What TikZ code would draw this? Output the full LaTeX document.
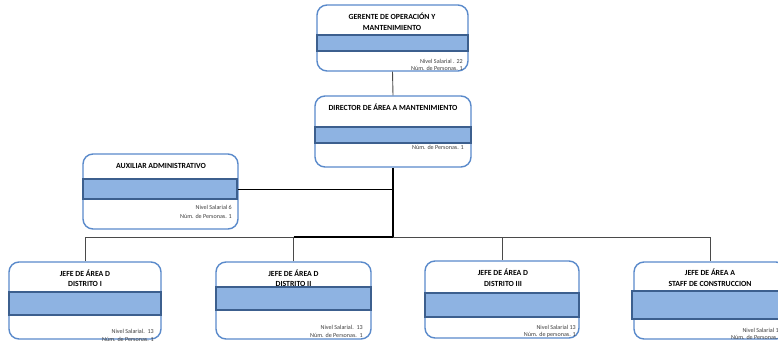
\documentclass[tikz,border=0pt]{standalone}
\usepackage{fontspec}
\setmainfont{Carlito}
\begin{document}
\begin{tikzpicture}[x=1pt,y=-1pt,
  card/.style={draw=boxblue,line width=1.4pt,rounded corners=10pt,fill=white,inner sep=0pt},
  band/.style={draw=banddark,line width=1.3pt,fill=bandfill,inner sep=0pt},
  ttl/.style={font=\fontsize{7.8}{10.5}\selectfont\bfseries,align=center,inner sep=0pt},
  note/.style={font=\fontsize{6.1}{7}\selectfont,text=notegray,anchor=east,inner sep=0pt},
  thinln/.style={draw=linegray,line width=0.9pt},
  thickln/.style={draw=black,line width=1.8pt},
  midln/.style={draw=black,line width=0.8pt}
]
\definecolor{boxblue}{HTML}{5A8ACB}
\definecolor{banddark}{HTML}{3C5F8E}
\definecolor{bandfill}{HTML}{8EB3E2}
\definecolor{notegray}{HTML}{404040}
\definecolor{linegray}{HTML}{4A4A4A}
\useasboundingbox (0,0) rectangle (778,345);
\clip (0,0) rectangle (778,345);
\fill[white] (0,0) rectangle (778,345);

% boxes
\node[card,minimum width=151pt,minimum height=66pt] (top) at (392.5,38) {};
\node[card,minimum width=156pt,minimum height=71pt] (dir) at (393,131.5) {};
\node[card,minimum width=155pt,minimum height=75pt] (aux) at (160.5,191.5) {};
\node[card,minimum width=152pt,minimum height=77pt] (j1) at (85,300.5) {};
\node[card,minimum width=155pt,minimum height=77pt] (j2) at (293.5,300.5) {};
\node[card,minimum width=154pt,minimum height=77pt] (j3) at (502,299.5) {};
\node[card,minimum width=152pt,minimum height=77pt] (j4) at (710,300.5) {};

% bands
\node[band,minimum width=151pt,minimum height=16pt] (topb) at (392.5,43) {};
\node[band,minimum width=156pt,minimum height=16pt] (dirb) at (393,135) {};
\node[band,minimum width=154pt,minimum height=20pt] (auxb) at (160,189) {};
\node[band,minimum width=152pt,minimum height=23pt] (j1b) at (85,303.5) {};
\node[band,minimum width=155pt,minimum height=23pt] (j2b) at (293.5,298.5) {};
\node[band,minimum width=154pt,minimum height=24pt] (j3b) at (502,305) {};
\node[band,minimum width=156pt,minimum height=28pt] (j4b) at (710,305) {};

% titles
\node[ttl] (topt) at (392,22) {GERENTE DE OPERACIÓN Y\\MANTENIMIENTO};
\node[ttl] (dirt) at (393,107) {DIRECTOR DE ÁREA A MANTENIMIENTO};
\node[ttl] (auxt) at (161,166) {AUXILIAR ADMINISTRATIVO};
\node[ttl] (j1t) at (85,278) {JEFE DE ÁREA D\\DISTRITO I};
\node[ttl] (j2t) at (293.5,278) {JEFE DE ÁREA D\\DISTRITO II};
\node[ttl] (j3t) at (503,277.5) {JEFE DE ÁREA D\\DISTRITO III};
\node[ttl] (j4t) at (710,277.5) {JEFE DE ÁREA A\\STAFF DE CONSTRUCCION};

% notes
\node[note] (topn1) at (463,61) {Nivel Salarial . 22};
\node[note] (topn2) at (463,68) {Núm. de Personas. 1};
\node[note] (dirn) at (464,147) {Núm. de Personas. 1};
\node[note] (auxn1) at (232,207) {Nivel Salarial 6};
\node[note] (auxn2) at (232,216) {Núm. de Personas. 1};
\node[note] (j1n1) at (154,331) {Nivel Salarial.\ \ 13};
\node[note] (j1n2) at (154,339) {Núm. de Personas. 1};
\node[note] (j2n1) at (363,327) {Nivel Salarial.\ \ 13};
\node[note] (j2n2) at (363,335) {Núm. de Personas.\ \ 1};
\node[note] (j3n1) at (576,327) {Nivel Salarial 13};
\node[note] (j3n2) at (576,335) {Núm. de personas. 1};
\node[note] (j4n1) at (782,330) {Nivel Salarial 13};
\node[note] (j4n2) at (783,337) {Núm. de Personas. 1};

% connectors
\coordinate (bus) at (393,237);
\draw[thinln] (top.south) -- (dir.north);
\draw[thickln] (dir.south) -- (bus);
\draw[midln] (auxb.east) -- (auxb.east -| dir.south);
\draw[thinln] (j1.north) |- (j2.north |- bus);
\draw[thickln,line width=1.6pt] (j2.north |- bus) -- (bus);
\draw[thinln] (j2.north) -- (j2.north |- bus);
\draw[thinln] (bus) -| (j3.north);
\draw[thinln] (bus) -| (j4.north);
\end{tikzpicture}
\end{document}
